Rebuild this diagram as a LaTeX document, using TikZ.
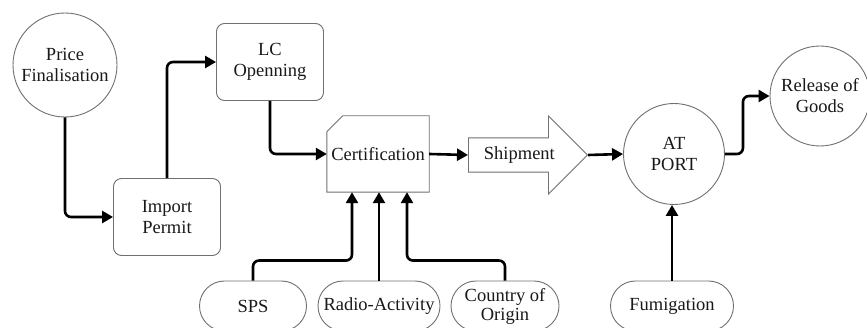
\documentclass[tikz,border=0pt]{standalone}
\usepackage{fontspec}
\setmainfont{Liberation Serif}
\usetikzlibrary{arrows.meta,positioning,shapes.misc,shapes.arrows,calc}
\definecolor{edge-gray}{HTML}{707070}

\begin{document}
\begin{tikzpicture}[
    x=1pt, y=-1pt,
    every node/.style={font=\fontsize{18.5}{21}\selectfont, text=black!90, align=center},
    outline/.style={draw=edge-gray, line width=0.9pt},
    circ/.style={circle, outline, fill=white, minimum size=104pt, inner sep=0pt},
    box/.style={rectangle, outline, rounded corners=8pt, fill=white,
                minimum width=107pt, minimum height=77pt},
    pill/.style={rounded rectangle, outline, fill=white,
                 minimum height=50pt, inner xsep=3pt},
    arrow/.style={-{Triangle[length=11pt,width=12pt]}, line width=2.6pt, rounded corners=6pt}
]
  \clip (0,0) rectangle (867,328);

  % Process steps
  \node[circ] (price) at (65,65) {Price\\Finalisation};
  \node[box] (import) at (167,217) {Import\\Permit};
  \node[box] (lc) at (270,62) {LC\\Openning};

  % Certification (cut corner)
  \node[rectangle, minimum width=102pt, minimum height=76pt, inner sep=0pt] (cert) at (378,154) {Certification};
  \draw[outline] ([yshift=-16pt]cert.north west) -- ([xshift=16pt]cert.north west)
    -- (cert.north east) -- (cert.south east) -- (cert.south west) -- cycle;

  % Shipment
  \node[single arrow, outline, fill=white,
        minimum height=119pt, minimum width=78pt, single arrow head extend=21.5pt,
        inner ysep=8pt, inner xsep=4pt, anchor=west] (ship) at (468,155) {Shipment};

  % Port and release
  \node[circ, minimum size=101pt] (port) at (674,154) {AT\\PORT};
  \node[circ, minimum size=100pt] (release) at (820,96) {Release of\\Goods};

  % Checks
  \node[pill, minimum width=113pt] (sps) at (253,306) {SPS};
  \node[pill, minimum width=128pt] (radio) at (379,306) {Radio-Activity};
  \node[pill, minimum width=114pt, font=\fontsize{18.5}{19}\selectfont] (origin) at (505,306) {Country of\\Origin};
  \node[pill, minimum width=129pt] (fum) at (672,306) {Fumigation};

  % Arrows
  \draw[arrow] (price.south) |- (import.west);
  \draw[arrow] (import.north) |- (lc.west);
  \draw[arrow] (lc.south) |- (cert.west);
  \draw[arrow] (cert.east) -- (ship.west);
  \draw[arrow] (ship.tip) -- (port.west);
  \draw[arrow] (port.east) -- ++(18,0) |- (release.west);
  \draw[arrow] (sps.north) |- ++(99,-20) -- ([xshift=-26pt]cert.south);
  \draw[arrow] (radio.north) -- (radio.north |- cert.south);
  \draw[arrow] (origin.north) |- ++(-98,-20) -- ([xshift=29pt]cert.south);
  \draw[arrow] (fum.north) -- (fum.north |- port.south);

\end{tikzpicture}
\end{document}
